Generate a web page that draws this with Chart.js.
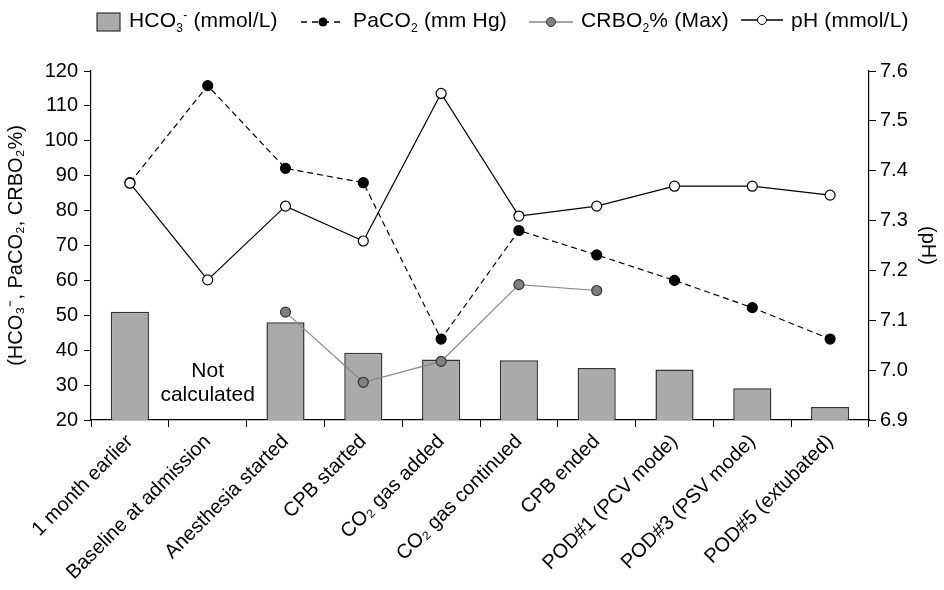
<!DOCTYPE html>
<html>
<head>
<meta charset="utf-8">
<script src="https://cdn.jsdelivr.net/npm/chart.js@4.4.1/dist/chart.umd.min.js"></script>
<style>
  body{margin:0;background:#fff;font-family:"Liberation Sans",Arial,sans-serif;}
  #wrap{position:relative;width:944px;height:590px;}
  #legend{position:absolute;top:0;left:0;width:944px;height:40px;font-size:21px;letter-spacing:0.2px;color:#000;white-space:nowrap;}
  #legend .item{position:absolute;top:8px;display:flex;align-items:center;}
  #legend svg{margin-right:7px;}
  sub,sup{font-size:12px;}
  sub{vertical-align:-5px;} sup{vertical-align:8px;}
</style>
</head>
<body>
<div id="wrap">
  <canvas id="grafico" width="944" height="590"></canvas>
  <div id="legend">
    <div class="item" style="left:96px"><svg width="26" height="22"><rect x="1" y="2" width="23" height="18" fill="#aaaaaa" stroke="#333" stroke-width="1.2"/></svg><span>HCO<sub>3</sub><sup>-</sup> (mmol/L)</span></div>
    <div class="item" style="left:300px"><svg width="46" height="22"><line x1="1" y1="11" x2="45" y2="11" stroke="#000" stroke-width="1.3" stroke-dasharray="6,5"/><circle cx="23" cy="11" r="4.5" fill="#000"/></svg><span>PaCO<sub>2</sub> (mm Hg)</span></div>
    <div class="item" style="left:528px"><svg width="46" height="22"><line x1="1" y1="11" x2="45" y2="11" stroke="#888" stroke-width="1.3"/><circle cx="23" cy="11" r="4.5" fill="#808080" stroke="#333" stroke-width="1"/></svg><span>CRBO<sub>2</sub>% (Max)</span></div>
    <div class="item" style="left:740px"><svg width="44" height="22"><line x1="1" y1="11" x2="43" y2="11" stroke="#000" stroke-width="1.3"/><circle cx="22" cy="11" r="4.5" fill="#fff" stroke="#000" stroke-width="1"/></svg><span>pH (mmol/L)</span></div>
  </div>
</div>
<script>
// datos
const categorias = ['1 month earlier', 'Baseline at admission', 'Anesthesia started', 'CPB started',
  'CO\u2082 gas added', 'CO\u2082 gas continued', 'CPB ended', 'POD#1 (PCV mode)', 'POD#3 (PSV mode)', 'POD#5 (extubated)'];
const hco3 = [51, null, 48, 39.3, 37.3, 37.1, 34.9, 34.5, 29.1, 23.7];
const paco2 = [88, 115.8, 92.1, 88, 43.2, 74.3, 67.3, 60, 52.2, 43.2];
const crbo2 = [null, null, 50.9, 30.8, 36.8, 58.8, 57.1, null, null, null];
const ph = [7.375, 7.181, 7.329, 7.259, 7.555, 7.309, 7.329, 7.369, 7.369, 7.351];
const ticksIzq = [20, 30, 40, 50, 60, 70, 80, 90, 100, 110, 120];
const ticksDer = [6.9, 7.0, 7.1, 7.2, 7.3, 7.4, 7.5, 7.6];

const fuente = '"Liberation Sans", Arial, sans-serif';

const notaPlugin = {
  id: 'nota',
  afterDatasetsDraw(chart) {
    const {ctx, scales} = chart;
    const x = scales.x.getPixelForValue(1);
    ctx.save();
    ctx.fillStyle = '#000';
    ctx.font = '21px ' + fuente;
    ctx.textAlign = 'center';
    ctx.textBaseline = 'middle';
    ctx.fillText('Not', x, scales.y.getPixelForValue(34));
    ctx.fillText('calculated', x, scales.y.getPixelForValue(27));
    ctx.restore();
  }
};

const ctx = document.getElementById('grafico').getContext('2d');
new Chart(ctx, {
  type: 'bar',
  data: {
    labels: categorias,
    datasets: [
      {
        type: 'line', label: 'pH (mmol/L)', data: ph, yAxisID: 'y1', order: 1,
        borderColor: '#000', borderWidth: 1.2, pointRadius: 5, pointBackgroundColor: '#fff',
        pointBorderColor: '#000', pointBorderWidth: 1.2, tension: 0
      },
      {
        type: 'line', label: 'PaCO2 (mm Hg)', data: paco2, yAxisID: 'y', order: 2,
        borderColor: '#000', borderWidth: 1.2, borderDash: [6, 4], pointRadius: 5,
        pointBackgroundColor: '#000', pointBorderColor: '#000', tension: 0
      },
      {
        type: 'line', label: 'CRBO2% (Max)', data: crbo2, yAxisID: 'y', order: 3,
        borderColor: '#888', borderWidth: 1.2, pointRadius: 5, pointBackgroundColor: '#808080',
        pointBorderColor: '#333', pointBorderWidth: 1.2, spanGaps: false, tension: 0
      },
      {
        type: 'bar', label: 'HCO3- (mmol/L)', data: hco3, yAxisID: 'y', order: 4,
        backgroundColor: '#aaaaaa', borderColor: '#333', borderWidth: 1.5,
        barPercentage: 0.49, categoryPercentage: 1
      }
    ]
  },
  options: {
    responsive: false,
    animation: false,
    layout: { padding: { top: 71, right: 0, left: 0, bottom: 0 } },
    plugins: { legend: { display: false }, tooltip: { enabled: false } },
    scales: {
      x: {
        offset: true,
        grid: { drawOnChartArea: false, drawTicks: true, tickLength: 7, color: '#000', offset: true },
        border: { display: true, color: '#000', width: 1.2 },
        ticks: { color: '#000', minRotation: 45, maxRotation: 45, autoSkip: false, font: { family: fuente, size: 20 } },
        afterFit(s) { s.height = 170; }
      },
      y: {
        position: 'left', min: 20, max: 120,
        afterBuildTicks(s) { s.ticks = ticksIzq.map(v => ({ value: v })); },
        grid: { drawOnChartArea: false, drawTicks: true, tickLength: 7, color: '#000' },
        border: { display: true, color: '#000', width: 1.2 },
        ticks: { color: '#000', padding: 6, font: { family: fuente, size: 20 } },
        title: { display: true, text: '(HCO\u2083\u207B, PaCO\u2082, CRBO\u2082%)', color: '#000', padding: 4, font: { family: fuente, size: 20 } },
        afterFit(s) { s.width = 91; }
      },
      y1: {
        position: 'right', min: 6.9, max: 7.6,
        afterBuildTicks(s) { s.ticks = ticksDer.map(v => ({ value: v })); },
        grid: { drawOnChartArea: false, drawTicks: true, tickLength: 7, color: '#000' },
        border: { display: true, color: '#000', width: 1.2 },
        ticks: { color: '#000', padding: 4, font: { family: fuente, size: 20 }, callback: v => Number(v).toFixed(1) },
        title: { display: true, text: '(pH)', color: '#000', padding: 4, font: { family: fuente, size: 20 } },
        afterFit(s) { s.width = 75; }
      }
    }
  },
  plugins: [notaPlugin]
});
</script>
</body>
</html>
